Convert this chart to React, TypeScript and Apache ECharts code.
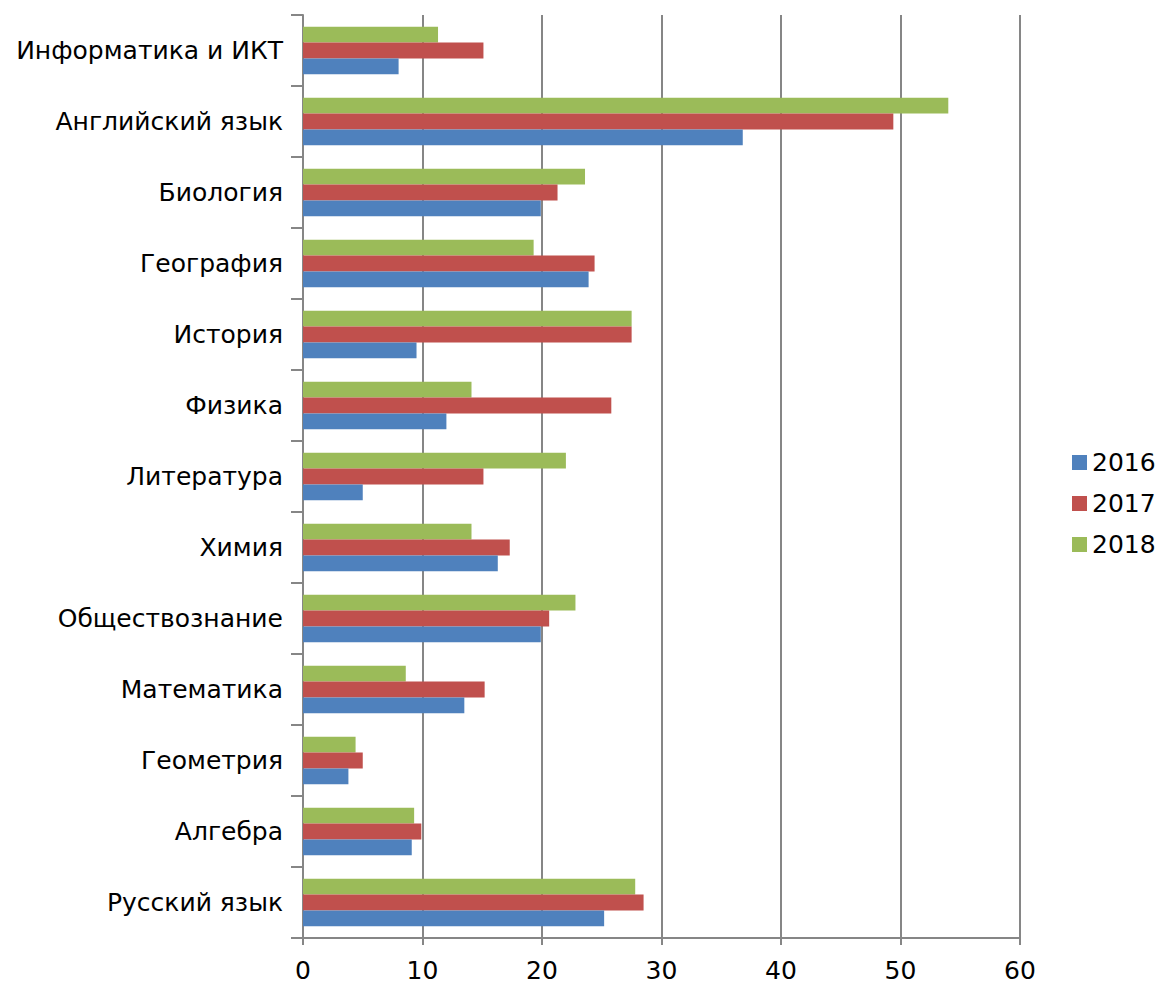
import React, { useEffect, useRef } from "react";
import * as echarts from "echarts";

const categories = [
  "Русский язык",
  "Алгебра",
  "Геометрия",
  "Математика",
  "Обществознание",
  "Химия",
  "Литература",
  "Физика",
  "История",
  "География",
  "Биология",
  "Английский язык",
  "Информатика и ИКТ",
];

const values2016 = [25.2, 9.1, 3.8, 13.5, 19.9, 16.3, 5.0, 12.0, 9.5, 23.9, 19.9, 36.8, 8.0];
const values2017 = [28.5, 9.9, 5.0, 15.2, 20.6, 17.3, 15.1, 25.8, 27.5, 24.4, 21.3, 49.4, 15.1];
const values2018 = [27.8, 9.3, 4.4, 8.6, 22.8, 14.1, 22.0, 14.1, 27.5, 19.3, 23.6, 54.0, 11.3];

const seriesNames = ["2016", "2017", "2018"];
const colors = ["#4F81BD", "#C0504D", "#9BBB59"];
const xTicks = { min: 0, max: 60, interval: 10 };

export default function App() {
  const ref = useRef<HTMLDivElement>(null);
  useEffect(() => {
    if (!ref.current) return;
    const chart = echarts.init(ref.current, null, { renderer: "svg" });
    const font = "DejaVu Sans";
    const data = [values2016, values2017, values2018];
    // ECharts places the first series at the top of a horizontal group, so draw in reverse
    const order = [2, 1, 0];
    chart.setOption({
      animation: false,
      textStyle: { fontFamily: font },
      grid: { left: 303, right: 139, top: 15, bottom: 47, containLabel: false },
      legend: {
        orient: "vertical",
        left: 1067,
        top: 445,
        itemWidth: 15,
        itemHeight: 15,
        itemGap: 16,
        icon: "rect",
        textStyle: { fontSize: 25, fontFamily: font, color: "#000" },
        data: seriesNames,
      },
      xAxis: {
        type: "value",
        min: xTicks.min,
        max: xTicks.max,
        interval: xTicks.interval,
        axisLine: { show: true, lineStyle: { color: "#868686", width: 2 } },
        axisTick: { show: true, length: 7, lineStyle: { color: "#868686", width: 2 } },
        axisLabel: { fontSize: 25, color: "#000", margin: 20, fontFamily: font },
        splitLine: { show: true, lineStyle: { color: "#868686", width: 2 } },
      },
      yAxis: {
        type: "category",
        data: categories,
        axisLine: { show: true, lineStyle: { color: "#868686", width: 2 } },
        axisTick: { show: true, length: 12, inside: false, lineStyle: { color: "#868686", width: 2 } },
        axisLabel: { fontSize: 25, color: "#000", margin: 20, fontFamily: font },
        splitLine: { show: false },
      },
      series: order.map((i) => ({
        name: seriesNames[i],
        type: "bar",
        data: data[i],
        itemStyle: { color: colors[i] },
        barGap: "0%",
        barCategoryGap: "33%",
      })),
    });
    return () => chart.dispose();
  }, []);
  return (
    <div
      ref={ref}
      style={{ position: "absolute", left: 0, top: 0, width: 1159, height: 985, background: "#fff" }}
    />
  );
}
